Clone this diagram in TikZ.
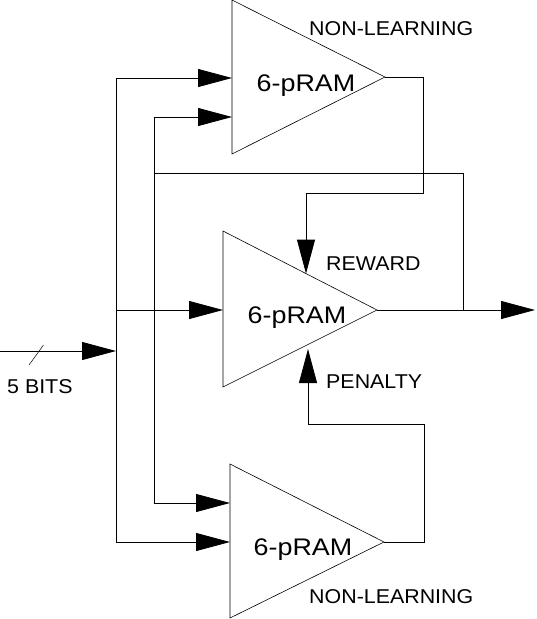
\documentclass[tikz,border=0pt]{standalone}
\usepackage{fontspec}
\usetikzlibrary{arrows.meta}
\newfontfamily\pramfont[FakeStretch=1.12]{Liberation Sans}
\newfontfamily\tagfont[FakeStretch=1.07]{Liberation Sans}
\tikzset{
    wire/.style={line width=0.8pt},
    feed/.style={wire, -{Triangle[length=34pt, width=18pt]}},
    pram/.style={line width=0.6pt, line join=miter},
    pramlabel/.style={font=\pramfont\fontsize{24}{28}\selectfont, anchor=base, inner sep=0pt},
    tag/.style={font=\tagfont\fontsize{20}{24}\selectfont, anchor=base west, inner sep=0pt},
    common settings/.style={x=1pt, y=-1pt}
}
\begin{document}
\begin{tikzpicture}[common settings]
    \useasboundingbox (0,0) rectangle (537,619);

    \def\busA{116}  % outer input bus
    \def\busB{154}  % inner input bus

    % Top pRAM (non-learning)
    \draw[pram] (232,0) coordinate (t1nw) -- (385,77) coordinate (t1out) -- (232,154) coordinate (t1sw) -- cycle;
    \node[pramlabel] (t1) at (306,91) {6-pRAM};
    \coordinate (t1in1) at (232,78);
    \coordinate (t1in2) at (232,117);

    % Middle pRAM (learning)
    \draw[pram] (223,231) coordinate (t2nw) -- (377,310) coordinate (t2out) -- (223,387) coordinate (t2sw) -- cycle;
    \node[pramlabel] (t2) at (297,323) {6-pRAM};
    \coordinate (t2in) at (223,310);
    \coordinate (t2rwd) at (306,273.6);
    \coordinate (t2pen) at (308,349);

    % Bottom pRAM (non-learning)
    \draw[pram] (230,464) coordinate (t3nw) -- (384,542) coordinate (t3out) -- (230,618) coordinate (t3sw) -- cycle;
    \node[pramlabel] (t3) at (303,555) {6-pRAM};
    \coordinate (t3in1) at (230,503);
    \coordinate (t3in2) at (230,542);

    % Input buses
    \coordinate (aTop) at (\busA,78);
    \coordinate (aMid) at (\busA,310);
    \coordinate (aBit) at (\busA,351);
    \coordinate (aBot) at (\busA,542);
    \coordinate (bTop) at (\busB,117);
    \coordinate (bRet) at (\busB,173);
    \coordinate (bBot) at (\busB,503);
    \draw[wire] (aTop) -- (aBot);
    \draw[wire] (bTop) -- (bBot);

    \draw[feed] (aTop) -- (t1in1);
    \draw[feed] (bTop) -- (t1in2);
    \draw[feed] (aMid) -- (t2in);
    \draw[feed] (bBot) -- (t3in1);
    \draw[feed] (aBot) -- (t3in2);

    % 5-bit input
    \coordinate (src) at (0,351);
    \draw[feed] (src) -- (aBit);
    \draw[line width=0.5pt] (29,365) -- (43.5,345);
    \node[tag] (bits) at (7,393) {5 BITS};

    % Reward and penalty feedback
    \coordinate (rwdturn) at (423,193);
    \coordinate (penturn) at (424,424);
    \draw[feed] (t1out) -| (rwdturn) -| (t2rwd);
    \draw[feed] (t3out) -| (penturn) -| (t2pen);

    % Output and return to inner bus
    \coordinate (outtap) at (463,310);
    \coordinate (out) at (535,310);
    \draw[wire] (bRet) -| (outtap);
    \draw[feed] (t2out) -- (out);

    % Labels
    \node[tag] (nl1) at (309,35) {NON-LEARNING};
    \node[tag] (rwd) at (326,270) {REWARD};
    \node[tag] (pen) at (326,388) {PENALTY};
    \node[tag] (nl3) at (309,603) {NON-LEARNING};
\end{tikzpicture}
\end{document}
